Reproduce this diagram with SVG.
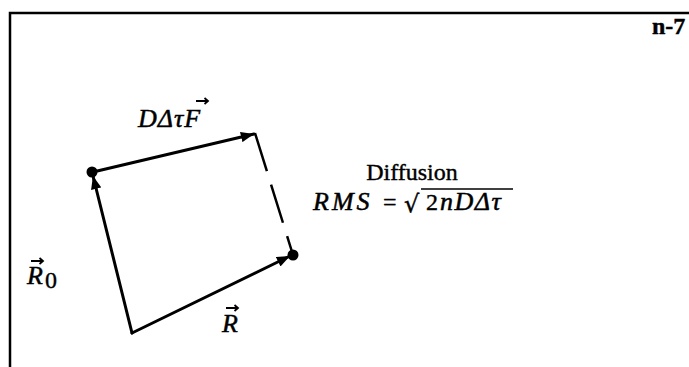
<svg xmlns="http://www.w3.org/2000/svg" width="689" height="367" viewBox="0 0 689 367">
<style>
.frame{stroke:#000;stroke-width:2.5;fill:none}
.vec{stroke:#000;stroke-width:3;fill:none;stroke-linecap:round}
.dash{stroke:#000;stroke-width:2.5;fill:none;stroke-dasharray:40 14}
.m{font-family:"Liberation Serif","DejaVu Serif",serif;font-style:italic;font-size:26px;fill:#000;stroke:#000;stroke-width:0.5}
.r{font-family:"Liberation Serif","DejaVu Serif",serif;font-size:24px;fill:#000;stroke:#000;stroke-width:0.4}
.va{stroke:#000;stroke-width:1.8;fill:none}
</style>
<defs>
<marker id="ah" viewBox="0 0 10 8" refX="10" refY="4" markerWidth="4.5" markerHeight="3.5" markerUnits="strokeWidth" orient="auto">
<path d="M0,0 L10,4 L0,8 z" fill="#000"/>
</marker>
</defs>
<rect width="689" height="367" fill="#fff"/>
<g id="frame">
<path class="frame" d="M10,367 V13 H689"/>
<text x="652" y="34" class="r" font-weight="bold" font-size="23">n-7</text>
</g>
<g id="connectors">
<line class="vec" x1="132" y1="333" x2="93" y2="176" marker-end="url(#ah)"/>
<line class="vec" x1="93" y1="172" x2="254" y2="134" marker-end="url(#ah)"/>
<line class="dash" x1="255" y1="133" x2="293" y2="255"/>
<line class="vec" x1="132" y1="333" x2="290" y2="256" marker-end="url(#ah)"/>
</g>
<g id="start"><circle cx="92" cy="172" r="5.5" fill="#000"/></g>
<g id="end"><circle cx="293" cy="255" r="5.5" fill="#000"/></g>
<g id="label-F">
<text x="138" y="127" class="m" letter-spacing="1">DΔτF</text>
<path class="va" d="M196,101 h12 m-3.5,-3 l3.5,3 l-3.5,3"/>
</g>
<g id="label-R0">
<text x="27" y="284" class="m">R</text>
<text x="45" y="288" class="r" font-size="17">0</text>
<path class="va" d="M31,261 h12 m-3.5,-3 l3.5,3 l-3.5,3"/>
</g>
<g id="label-R">
<text x="222" y="332" class="m">R</text>
<path class="va" d="M226,308 h12 m-3.5,-3 l3.5,3 l-3.5,3"/>
</g>
<g id="label-diffusion">
<text x="412" y="180" class="r" text-anchor="middle">Diffusion</text>
<text x="313" y="210" class="m" letter-spacing="3">RMS</text>
<text x="383" y="210" class="r" font-size="26">=</text>
<text x="404" y="212" class="r" font-size="28" style="font-family:'DejaVu Serif',serif">√</text>
<line x1="421" y1="189" x2="513" y2="189" stroke="#000" stroke-width="1.6"/>
<text x="426" y="210" class="r" font-size="26">2</text>
<text x="440" y="210" class="m" letter-spacing="1.5">nDΔτ</text>
</g>
</svg>
